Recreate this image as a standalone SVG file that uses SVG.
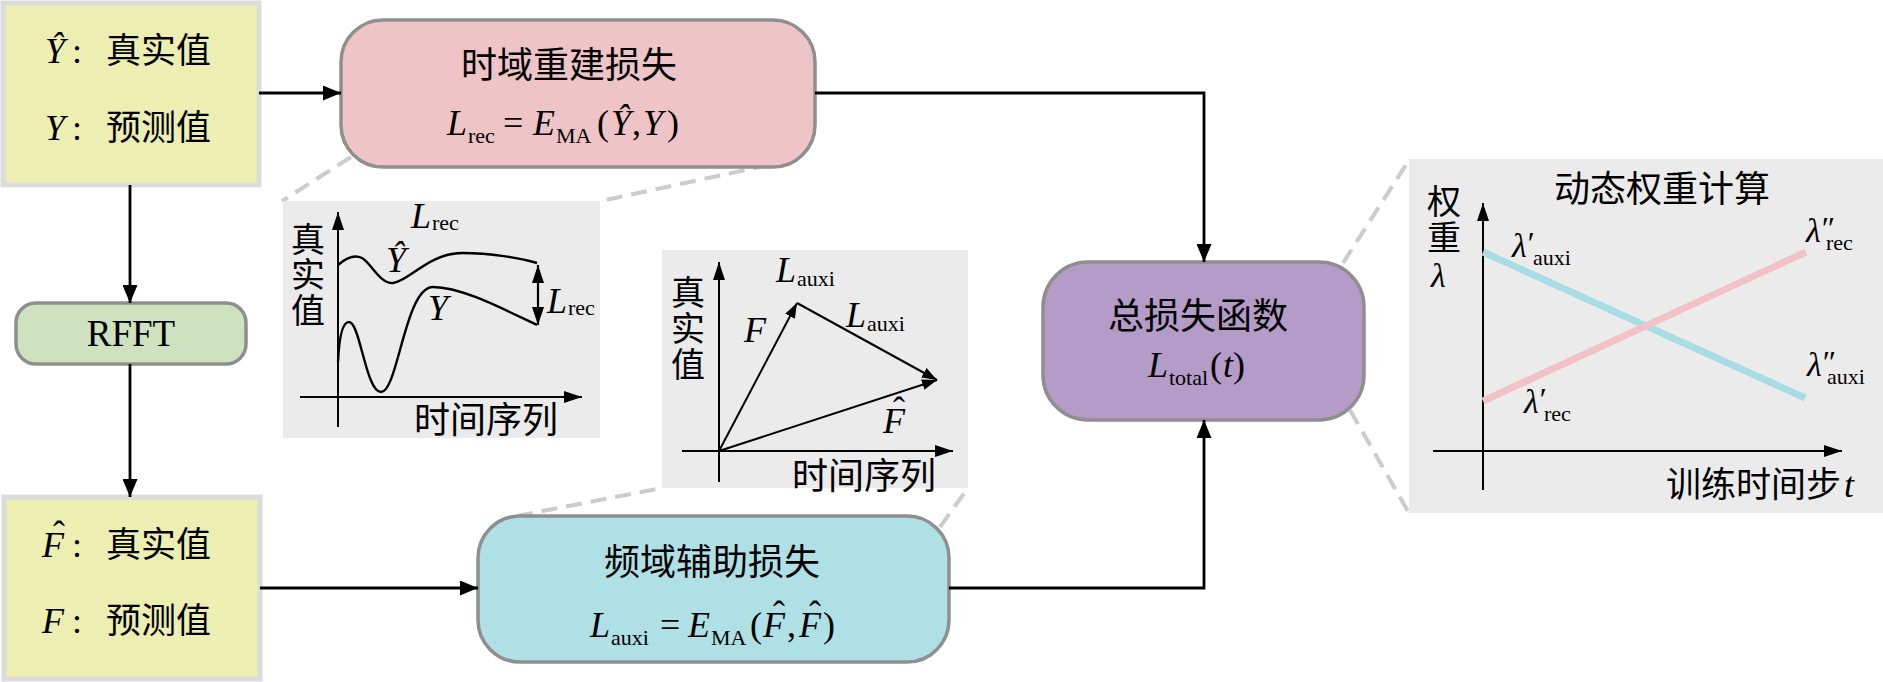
<svg xmlns="http://www.w3.org/2000/svg" width="1883" height="682" viewBox="0 0 1883 682">
<defs>
<style>
.cjk{font-family:"Noto Sans CJK SC","Liberation Serif",sans-serif;}
.lat{font-family:"Liberation Serif","Noto Sans CJK SC",serif;}
.it{font-style:italic;}
.t36{font-size:36px;}
.t34{font-size:34px;}
.sub{font-size:22px;font-style:normal;}
.pr{font-size:32px;font-style:italic;}
.box{stroke:#8f8f8f;stroke-width:3.5;}
.ybox{fill:#ecefb1;stroke:#dcdcdc;stroke-width:5;}
.panel{fill:#ebebeb;}
.conn{fill:none;stroke:#000;stroke-width:2.8;}
.dash{fill:none;stroke:#cccccc;stroke-width:4;stroke-dasharray:16 9;}
.axis{fill:none;stroke:#000;stroke-width:2;}
.curve{fill:none;stroke:#000;stroke-width:2.4;}
</style>
<marker id="arr" viewBox="0 0 18 15" refX="18" refY="7.5" markerWidth="18" markerHeight="15" markerUnits="userSpaceOnUse" orient="auto"><path d="M0,0 L18,7.5 L0,15 z" fill="#000"/></marker>
<marker id="ax" viewBox="0 0 18 12" refX="18" refY="6" markerWidth="18" markerHeight="12" markerUnits="userSpaceOnUse" orient="auto"><path d="M0,0 L18,6 L0,12 z" fill="#000"/></marker>
<marker id="ax0" viewBox="0 0 18 12" refX="0" refY="6" markerWidth="18" markerHeight="12" markerUnits="userSpaceOnUse" orient="auto"><path d="M18,0 L0,6 L18,12 z" fill="#000"/></marker>
<marker id="vec" viewBox="0 0 15 11" refX="15" refY="5.5" markerWidth="15" markerHeight="11" markerUnits="userSpaceOnUse" orient="auto"><path d="M0,0 L15,5.5 L0,11 z" fill="#000"/></marker>
</defs>
<rect width="1883" height="682" fill="#fff"/>

<g id="dashed-links">
<path class="dash" d="M351,157 L282,201"/>
<path class="dash" d="M769,165 L601,201"/>
<path class="dash" d="M517,516 L662,488"/>
<path class="dash" d="M940,527 L968,488"/>
<path class="dash" d="M1343,263 L1409,160"/>
<path class="dash" d="M1350,410 L1409,513"/>
</g>

<g id="input-time">
<rect class="ybox" x="3" y="3" width="256" height="182"/>
<text class="lat t36" y="63"><tspan class="it" x="45">Ŷ</tspan><tspan x="72">:</tspan><tspan class="cjk" x="106" style="font-size:35px">真实值</tspan></text>
<text class="lat t36" y="140"><tspan class="it" x="45">Y</tspan><tspan x="72">:</tspan><tspan class="cjk" x="106" style="font-size:35px">预测值</tspan></text>
</g>

<g id="time-loss">
<rect class="box" x="341" y="20" width="474" height="147" rx="42" fill="#efc4c7"/>
<text class="cjk t36" x="569" y="78" text-anchor="middle">时域重建损失</text>
<text class="lat t36" y="135"><tspan class="it" x="447">L</tspan><tspan class="sub" x="468" dy="8">rec</tspan><tspan x="503" dy="-8">=</tspan><tspan class="it" x="533">E</tspan><tspan class="sub" x="556" dy="8">MA</tspan><tspan x="597" dy="-8">(</tspan><tspan class="it" x="611">Ŷ</tspan><tspan x="632">,</tspan><tspan class="it" x="643">Y</tspan><tspan x="667">)</tspan></text>
</g>

<g id="rfft">
<rect class="box" x="16" y="303" width="230" height="61" rx="20" fill="#cfe2c0"/>
<text class="lat" x="131" y="346" text-anchor="middle" style="font-size:37px">RFFT</text>
</g>

<g id="input-freq">
<rect class="ybox" x="4" y="497" width="256" height="182"/>
<text class="lat t36" y="557"><tspan class="it" x="42">F</tspan><tspan x="72">:</tspan><tspan class="cjk" x="106" style="font-size:35px">真实值</tspan></text>
<text class="lat t36" x="53" y="546">ˆ</text>
<text class="lat t36" y="633"><tspan class="it" x="42">F</tspan><tspan x="72">:</tspan><tspan class="cjk" x="106" style="font-size:35px">预测值</tspan></text>
</g>

<g id="freq-loss">
<rect class="box" x="478" y="516" width="471" height="146" rx="42" fill="#aee0e6"/>
<text class="cjk t36" x="712" y="575" text-anchor="middle">频域辅助损失</text>
<text class="lat t36" y="637"><tspan class="it" x="590">L</tspan><tspan class="sub" x="611" dy="8">auxi</tspan><tspan x="660" dy="-8">=</tspan><tspan class="it" x="688">E</tspan><tspan class="sub" x="711" dy="8">MA</tspan><tspan x="750" dy="-8">(</tspan><tspan class="it" x="763">F</tspan><tspan x="787">,</tspan><tspan class="it" x="799">F</tspan><tspan x="823">)</tspan></text>
<text class="lat t36" x="773" y="626">ˆ</text>
<text class="lat t36" x="809" y="626">ˆ</text>
</g>

<g id="total-loss">
<rect class="box" x="1043" y="262" width="321" height="158" rx="45" fill="#b49bc8"/>
<text class="cjk t36" x="1198" y="329" text-anchor="middle">总损失函数</text>
<text class="lat t36" y="377"><tspan class="it" x="1148">L</tspan><tspan class="sub" x="1169" dy="8">total</tspan><tspan x="1210" dy="-8">(</tspan><tspan class="it" x="1223">t</tspan><tspan x="1233">)</tspan></text>
</g>

<g id="connectors">
<path class="conn" d="M259,93 L341,93" marker-end="url(#arr)"/>
<path class="conn" d="M815,93 L1204,93 L1204,262" marker-end="url(#arr)"/>
<path class="conn" d="M130,185 L130,303" marker-end="url(#arr)"/>
<path class="conn" d="M130,364 L130,497" marker-end="url(#arr)"/>
<path class="conn" d="M260,588 L478,588" marker-end="url(#arr)"/>
<path class="conn" d="M949,588 L1204,588 L1204,420" marker-end="url(#arr)"/>
</g>

<g id="time-panel">
<rect class="panel" x="283" y="201" width="317" height="237"/>
<path class="axis" d="M338,427 L338,212" marker-end="url(#ax)"/>
<path class="axis" d="M300,397 L582,397" marker-end="url(#ax)"/>
<text class="cjk t34" x="291" y="252">真</text>
<text class="cjk t34" x="291" y="287">实</text>
<text class="cjk t34" x="291" y="323">值</text>
<path class="curve" d="M338,265 C346,258 354,254 362,258 C372,264 380,284 393,283 C410,281 428,253 463,253 C490,253 520,258 537,263"/>
<path class="curve" d="M338,362 C339,340 342,322 349,322 C360,322 366,392 381,392 C398,392 405,287 433,287 C462,287 505,310 537,325"/>
<path class="axis" d="M538,265 L538,325" marker-start="url(#ax0)" marker-end="url(#ax)" style="stroke-width:2.2"/>
<text class="lat t36" y="228"><tspan class="it" x="411">L</tspan><tspan class="sub" x="432" dy="2">rec</tspan></text>
<text class="lat t36 it" x="386" y="272">Ŷ</text>
<text class="lat t36 it" x="428" y="320">Y</text>
<text class="lat t36" y="313"><tspan class="it" x="547">L</tspan><tspan class="sub" x="568" dy="2">rec</tspan></text>
<text class="cjk t36" x="414" y="433">时间序列</text>
</g>

<g id="freq-panel">
<rect class="panel" x="662" y="250" width="306" height="238"/>
<path class="axis" d="M719,482 L719,262" marker-end="url(#ax)"/>
<path class="axis" d="M682,451 L953,451" marker-end="url(#ax)"/>
<text class="cjk t34" x="671" y="305">真</text>
<text class="cjk t34" x="671" y="341">实</text>
<text class="cjk t34" x="671" y="377">值</text>
<path class="axis" d="M719,451 L797,303" marker-end="url(#vec)"/>
<path class="axis" d="M797,303 L937,380" marker-end="url(#vec)"/>
<path class="axis" d="M719,451 L937,380" marker-end="url(#vec)"/>
<text class="lat t36" y="282"><tspan class="it" x="776">L</tspan><tspan class="sub" x="797" dy="4">auxi</tspan></text>
<text class="lat t36 it" x="744" y="342">F</text>
<text class="lat t36" y="327"><tspan class="it" x="846">L</tspan><tspan class="sub" x="867" dy="4">auxi</tspan></text>
<text class="lat t36 it" x="883" y="433">F</text>
<text class="lat t36" x="893" y="422">ˆ</text>
<text class="cjk t36" x="792" y="489">时间序列</text>
</g>

<g id="weight-panel">
<rect class="panel" x="1409" y="159" width="474" height="354"/>
<text class="cjk t36" x="1662" y="202" text-anchor="middle">动态权重计算</text>
<text class="cjk t34" x="1427" y="214">权</text>
<text class="cjk t34" x="1427" y="250">重</text>
<text class="lat t34 it" x="1431" y="287">λ</text>
<path class="axis" d="M1483,490 L1483,203" marker-end="url(#ax)"/>
<path class="axis" d="M1433,451 L1842,451" marker-end="url(#ax)"/>
<path d="M1483,252 L1805,398" stroke="#a8dde3" stroke-width="7" fill="none"/>
<path d="M1483,401 L1806,252" stroke="#f2c2c6" stroke-width="7" fill="none"/>
<text class="lat t34" y="257"><tspan class="it" x="1512">λ</tspan><tspan class="pr" dx="-1" dy="-3">′</tspan><tspan class="sub" x="1533" dy="11">auxi</tspan></text>
<text class="lat t34" y="242"><tspan class="it" x="1806">λ</tspan><tspan class="pr" dx="-1" dy="-3">″</tspan><tspan class="sub" x="1826" dy="11">rec</tspan></text>
<text class="lat t34" y="376"><tspan class="it" x="1807">λ</tspan><tspan class="pr" dx="-1" dy="-3">″</tspan><tspan class="sub" x="1827" dy="11">auxi</tspan></text>
<text class="lat t34" y="413"><tspan class="it" x="1524">λ</tspan><tspan class="pr" dx="-1" dy="-3">′</tspan><tspan class="sub" x="1544" dy="11">rec</tspan></text>
<text class="t36" y="497"><tspan class="cjk" x="1666" style="font-size:35px">训练时间步</tspan><tspan class="lat it" x="1844">t</tspan></text>
</g>
</svg>
